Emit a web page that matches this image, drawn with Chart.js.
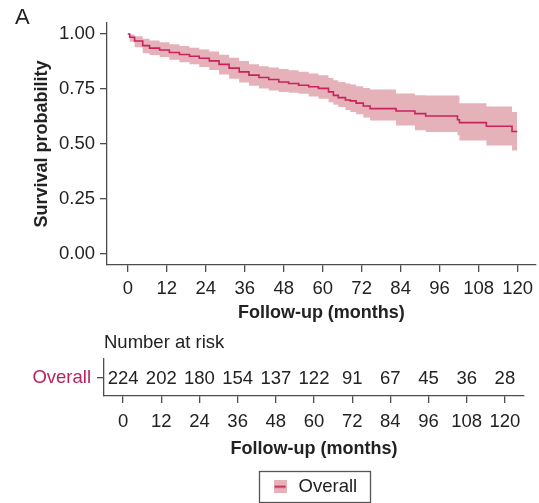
<!DOCTYPE html>
<html>
<head>
<meta charset="utf-8">
<script src="https://cdn.jsdelivr.net/npm/chart.js@4/dist/chart.umd.min.js"></script>
<style>
  body { margin: 0; background: #fff; width: 539px; height: 503px; overflow: hidden; position: relative; }
  canvas { position: absolute; left: 0; }
  #km { top: 0; }
  #risk { top: 328px; }
</style>
</head>
<body>
<canvas id="km" width="539" height="328"></canvas>
<canvas id="risk" width="539" height="178"></canvas>
<script>
// Kaplan-Meier estimate with 95% band
var months = [0, 0.6, 2.1, 4.6, 6.7, 9.8, 12.8, 15.9, 19.0, 22.0,
              25.1, 28.1, 31.2, 34.3, 37.3, 40.4, 43.4, 46.5, 49.5, 52.6,
              55.7, 58.7, 61.8, 63.3, 64.8, 67.0, 68.5, 70.3, 72.5, 74.6,
              82.6, 88.4, 91.7, 101.5, 102.1, 110.4, 118.3, 119.9];
var survival = [1.000, 0.985, 0.968, 0.947, 0.936, 0.927, 0.916, 0.907, 0.899, 0.890,
                0.878, 0.862, 0.845, 0.828, 0.813, 0.802, 0.793, 0.782, 0.775, 0.767,
                0.760, 0.753, 0.737, 0.721, 0.711, 0.700, 0.696, 0.686, 0.673, 0.661,
                0.650, 0.638, 0.627, 0.610, 0.597, 0.581, 0.557, 0.557];
var upperCI = [1.000, 0.998, 0.990, 0.978, 0.970, 0.962, 0.953, 0.945, 0.938, 0.930,
               0.920, 0.906, 0.892, 0.877, 0.862, 0.853, 0.848, 0.841, 0.835, 0.828,
               0.820, 0.813, 0.800, 0.790, 0.782, 0.775, 0.770, 0.762, 0.755, 0.748,
               0.730, 0.722, 0.720, 0.720, 0.685, 0.671, 0.645, 0.615];
var lowerCI = [1.000, 0.965, 0.940, 0.912, 0.905, 0.895, 0.883, 0.872, 0.862, 0.850,
               0.836, 0.816, 0.797, 0.780, 0.765, 0.752, 0.743, 0.736, 0.733, 0.728,
               0.716, 0.706, 0.690, 0.678, 0.668, 0.655, 0.645, 0.635, 0.620, 0.607,
               0.584, 0.562, 0.554, 0.540, 0.516, 0.493, 0.470, 0.470];

// number at risk table
var groupName = 'Overall';
var riskTimes = [0, 12, 24, 36, 48, 60, 72, 84, 96, 108, 120];
var atRisk = [224, 202, 180, 154, 137, 122, 91, 67, 45, 36, 28];

var xTicks = [0, 12, 24, 36, 48, 60, 72, 84, 96, 108, 120];
var yTicks = [0, 0.25, 0.5, 0.75, 1];

var lineColor = '#C8235C';
var bandColor = '#E6B2BA';
var axisColor = '#4d4d4d';
var textColor = '#222';
var fontSize = 18.5;

Chart.defaults.font.family = '"Liberation Sans", Arial, sans-serif';
Chart.defaults.color = textColor;

function pts(ys) {
    return months.map(function (m, i) { return { x: m, y: ys[i] }; });
}

function xAxis(min, max, height, tickPad, titlePad) {
    return {
        type: 'linear', min: min, max: max,
        afterBuildTicks: function (s) { s.ticks = xTicks.map(function (v) { return { value: v }; }); },
        afterFit: function (s) { s.height = height; },
        grid: { drawOnChartArea: false, tickLength: 7, color: axisColor, lineWidth: 1.3 },
        border: { color: axisColor, width: 1.3 },
        ticks: { font: { size: fontSize }, padding: tickPad, maxRotation: 0, autoSkip: false, color: textColor },
        title: { display: true, text: 'Follow-up (months)', font: { size: 18, weight: 'bold' },
                 color: textColor, padding: { top: 0, bottom: titlePad } }
    };
}

// survival plot
var km = document.getElementById('km').getContext('2d');
new Chart(km, {
    type: 'line',
    data: {
        datasets: [{
            label: groupName,
            data: pts(survival),
            stepped: 'before',
            borderColor: lineColor,
            borderWidth: 1.6,
            pointRadius: 0,
            fill: false
        }, {
            label: 'upper',
            data: pts(upperCI),
            stepped: 'before',
            borderWidth: 0,
            pointRadius: 0,
            backgroundColor: bandColor,
            fill: '+1'
        }, {
            label: 'lower',
            data: pts(lowerCI),
            stepped: 'before',
            borderWidth: 0,
            pointRadius: 0,
            fill: false
        }]
    },
    options: {
        responsive: false,
        animation: false,
        layout: { padding: { left: 15, right: 0, top: 0, bottom: 0 } },
        plugins: {
            legend: { display: false },
            tooltip: { enabled: false },
            title: { display: true, text: 'A', align: 'start', color: textColor,
                     font: { size: 22, weight: 'normal', lineHeight: 1 }, padding: { top: 7, bottom: -6 } }
        },
        scales: {
            x: xAxis(-6.4, 125.6, 63, 6, 4),
            y: {
                min: -0.05, max: 1.05,
                afterBuildTicks: function (s) { s.ticks = yTicks.map(function (v) { return { value: v }; }); },
                afterFit: function (s) { s.width = 92; },
                grid: { drawOnChartArea: false, tickLength: 7, color: axisColor, lineWidth: 1.3 },
                border: { color: axisColor, width: 1.3 },
                ticks: { font: { size: fontSize }, padding: 5, color: textColor,
                         callback: function (v) { return v.toFixed(2); } },
                title: { display: true, text: 'Survival probability', font: { size: 18, weight: 'bold' },
                         color: textColor, padding: { top: 16, bottom: 0 } }
            }
        }
    }
});

// risk table numbers drawn at their scale positions
var riskLabels = {
    id: 'riskLabels',
    afterDatasetsDraw: function (chart) {
        var ctx = chart.ctx;
        var meta = chart.getDatasetMeta(0);
        ctx.save();
        ctx.font = fontSize + 'px "Liberation Sans", Arial, sans-serif';
        ctx.fillStyle = textColor;
        ctx.textAlign = 'center';
        ctx.textBaseline = 'middle';
        meta.data.forEach(function (p, i) { ctx.fillText(String(atRisk[i]), p.x, p.y + 1); });
        ctx.restore();
    }
};

// frame round the legend
var legendFrame = {
    id: 'legendFrame',
    afterDraw: function (chart) {
        var lg = chart.legend;
        if (!lg || !lg.legendHitBoxes.length) return;
        var hb = lg.legendHitBoxes[0];
        var ctx = chart.ctx;
        ctx.save();
        ctx.strokeStyle = '#555';
        ctx.lineWidth = 1.3;
        ctx.strokeRect(Math.round(hb.left - 12) + 0.5, Math.round(hb.top - 7) + 0.5,
                       Math.round(hb.width + 25), 31);
        ctx.restore();
    }
};

var icon = document.createElement('canvas');
icon.width = 13; icon.height = 13;
var ic = icon.getContext('2d');
ic.fillStyle = bandColor;
ic.fillRect(0, 0, 13, 13);
ic.strokeStyle = lineColor;
ic.lineWidth = 2;
ic.beginPath(); ic.moveTo(1, 6.5); ic.lineTo(12, 6.5); ic.stroke();

var risk = document.getElementById('risk').getContext('2d');
new Chart(risk, {
    type: 'scatter',
    data: {
        datasets: [{
            label: groupName,
            data: riskTimes.map(function (t) { return { x: t, y: groupName }; }),
            pointRadius: 0,
            showLine: false
        }]
    },
    options: {
        responsive: false,
        animation: false,
        layout: { padding: { left: 0, right: 15, top: 0, bottom: 0 } },
        plugins: {
            tooltip: { enabled: false },
            title: { display: true, text: 'Number at risk', align: 'start', fullSize: false,
                     color: textColor, font: { size: fontSize, weight: 'normal' }, padding: { top: 4, bottom: 4.8 } },
            legend: {
                position: 'bottom',
                fullSize: false,
                labels: { usePointStyle: true, pointStyle: icon, font: { size: fontSize },
                          padding: 7, color: textColor }
            }
        },
        scales: {
            x: xAxis(-6, 126, 74.5, 8, 11),
            y: {
                type: 'category',
                labels: [groupName],
                offset: true,
                afterFit: function (s) { s.width = 104; },
                grid: { drawOnChartArea: false, tickLength: 7, color: axisColor, lineWidth: 1.3 },
                border: { color: axisColor, width: 1.3 },
                ticks: { font: { size: fontSize }, padding: 6, color: '#B8245A' }
            }
        }
    },
    plugins: [riskLabels, legendFrame]
});
</script>
</body>
</html>
